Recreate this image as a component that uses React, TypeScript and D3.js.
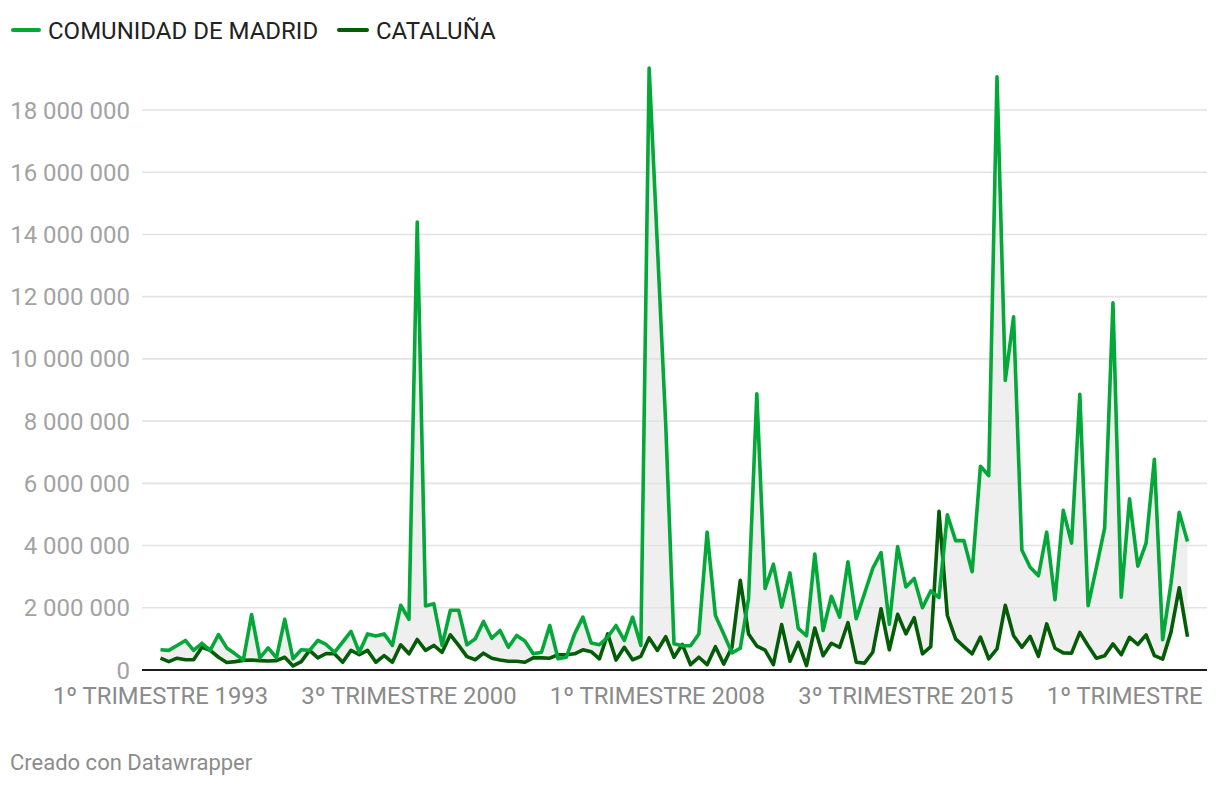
import React, { useEffect } from "react";
import * as d3 from "d3";

const madrid: number[] = [
  0.65, 0.63, 0.79, 0.95, 0.63, 0.86, 0.63, 1.14, 0.71, 0.52,
  0.32, 1.78, 0.39, 0.71, 0.39, 1.63, 0.36, 0.65, 0.63, 0.95,
  0.82, 0.57, 0.9, 1.24, 0.57, 1.16, 1.09, 1.16, 0.79, 2.08,
  1.63, 14.4, 2.06, 2.13, 0.79, 1.92, 1.92, 0.81, 1.0, 1.56,
  1.02, 1.27, 0.73, 1.11, 0.93, 0.52, 0.57, 1.43, 0.36, 0.41,
  1.16, 1.7, 0.87, 0.81, 1.06, 1.43, 0.95, 1.7, 0.79, 19.35,
  13.6, 7.9, 0.84, 0.78, 0.78, 1.16, 4.43, 1.75, 1.16, 0.55,
  0.7, 2.3, 8.88, 2.62, 3.4, 2.02, 3.12, 1.34, 1.1, 3.73,
  1.27, 2.37, 1.7, 3.48, 1.65, 2.46, 3.27, 3.77, 1.47, 3.97,
  2.67, 2.94, 2.0, 2.54, 2.33, 4.99, 4.16, 4.16, 3.16, 6.55,
  6.25, 19.07, 9.31, 11.35, 3.86, 3.3, 3.03, 4.43, 2.26, 5.13,
  4.08, 8.86, 2.07, 3.3, 4.57, 11.8, 2.34, 5.5, 3.34, 4.08,
  6.77, 0.97, 2.77, 5.07, 4.13,
].map((v) => v * 1e6);

const cataluna: number[] = [
  0.38, 0.27, 0.38, 0.33, 0.33, 0.73, 0.63, 0.41, 0.24, 0.27,
  0.31, 0.32, 0.3, 0.29, 0.3, 0.41, 0.13, 0.27, 0.63, 0.39,
  0.53, 0.52, 0.25, 0.63, 0.49, 0.63, 0.25, 0.46, 0.25, 0.81,
  0.52, 0.98, 0.63, 0.79, 0.57, 1.13, 0.79, 0.43, 0.33, 0.54,
  0.38, 0.32, 0.28, 0.28, 0.25, 0.39, 0.39, 0.38, 0.49, 0.49,
  0.52, 0.65, 0.59, 0.36, 1.16, 0.32, 0.73, 0.33, 0.44, 1.03,
  0.63, 1.07, 0.41, 0.82, 0.17, 0.41, 0.17, 0.75, 0.19, 0.73,
  2.88, 1.16, 0.77, 0.64, 0.17, 1.46, 0.28, 0.89, 0.14, 1.35,
  0.46, 0.86, 0.73, 1.52, 0.25, 0.22, 0.57, 1.97, 0.65, 1.79,
  1.16, 1.68, 0.52, 0.75, 5.1, 1.76, 1.0, 0.75, 0.52, 1.06,
  0.36, 0.68, 2.08, 1.1, 0.73, 1.08, 0.44, 1.48, 0.7, 0.55,
  0.54, 1.21, 0.78, 0.38, 0.46, 0.84, 0.49, 1.05, 0.82, 1.13,
  0.46, 0.35, 1.21, 2.64, 1.07,
].map((v) => v * 1e6);

const quarterNames = ["1º", "2º", "3º", "4º"];
const categories: string[] = madrid.map(
  (_, i) => `${quarterNames[i % 4]} TRIMESTRE ${1993 + Math.floor(i / 4)}`
);
const xTickLabels: string[] = [
  "1º TRIMESTRE 1993",
  "3º TRIMESTRE 2000",
  "1º TRIMESTRE 2008",
  "3º TRIMESTRE 2015",
  "1º TRIMESTRE 2023",
];
const yTicks: number[] = [0, 2e6, 4e6, 6e6, 8e6, 10e6, 12e6, 14e6, 16e6, 18e6];
const seriesNames = ["COMUNIDAD DE MADRID", "CATALUÑA"];

const W = 1220;
const H = 786;
const FONT = "Roboto, 'Noto Sans', sans-serif";
const C_MADRID = "#03a838";
const C_CAT = "#045c07";

export default function App() {
  useEffect(() => {
    document.body.style.margin = "0";
    document.body.style.overflow = "hidden";
  }, []);

  const x = d3.scalePoint<string>().domain(categories).range([160.5, 1187.5]);
  const y = d3.scaleLinear().domain([0, 18e6]).range([670, 110]);
  const fmt = (v: number) => d3.format(",")(v).replace(/,/g, " ");

  const line = d3
    .line<number>()
    .x((_, i) => x(categories[i]) as number)
    .y((d) => y(d));
  const area = d3
    .area<number>()
    .x((_, i) => x(categories[i]) as number)
    .y0((_, i) => y(cataluna[i]))
    .y1((d) => y(d));

  return (
    <svg
      width={W}
      height={H}
      style={{ position: "absolute", left: 0, top: 0, background: "#fff" }}
      fontFamily={FONT}
    >
      <defs>
        <clipPath id="clipR">
          <rect x={0} y={0} width={1209} height={H} />
        </clipPath>
      </defs>
      {/* legend */}
      <g>
        <line x1={13} x2={39} y1={30} y2={30} stroke={C_MADRID} strokeWidth={4} strokeLinecap="round" />
        <text x={48} y={38.5} fontSize={24} fill="#222">{seriesNames[0]}</text>
        <line x1={339} x2={367} y1={30} y2={30} stroke={C_CAT} strokeWidth={4} strokeLinecap="round" />
        <text x={376} y={38.5} fontSize={24} fill="#222">{seriesNames[1]}</text>
      </g>
      {/* area between */}
      <path d={area(madrid) || ""} fill="#efefef" />
      {/* gridlines */}
      {yTicks.filter((t) => t > 0).map((t) => (
        <line key={t} x1={142} x2={1207} y1={y(t)} y2={y(t)} stroke="#e3e3e3" strokeWidth={1.6} />
      ))}
      {yTicks.map((t) => (
        <text key={"l" + t} x={130} y={y(t) + 8.5} fontSize={24} fill="#a3a3a3" textAnchor="end">
          {fmt(t)}
        </text>
      ))}
      {/* lines */}
      <path d={line(cataluna) || ""} fill="none" stroke={C_CAT} strokeWidth={3.6} strokeLinejoin="round" />
      <path d={line(madrid) || ""} fill="none" stroke={C_MADRID} strokeWidth={3.6} strokeLinejoin="round" />
      {/* baseline */}
      <line x1={142} x2={1207} y1={670} y2={670} stroke="#1d1d1d" strokeWidth={2} />
      {/* x labels */}
      <g clipPath="url(#clipR)">
        {xTickLabels.map((l) => (
          <text key={l} x={x(l) as number} y={703.5} fontSize={23.8} fill="#8a8a8a" textAnchor="middle">
            {l}
          </text>
        ))}
      </g>
      <text x={10} y={770} fontSize={22} fill="#8c8c8c">Creado con Datawrapper</text>
    </svg>
  );
}
